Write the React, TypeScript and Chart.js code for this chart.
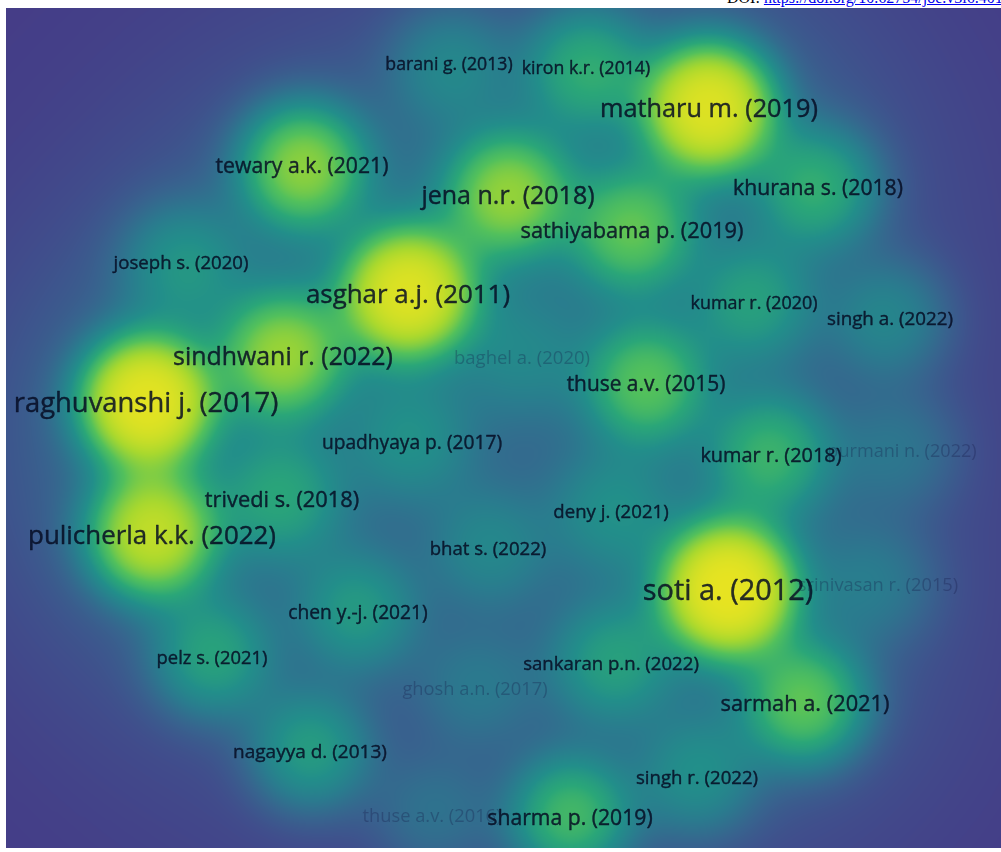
import React, { useEffect, useRef } from "react";
import { Chart, registerables } from "chart.js";

Chart.register(...registerables);

// Document map: label, map position (x right, y down), citations and link strength
const authors: string[] = [
  "barani g. (2013)",
  "kiron k.r. (2014)",
  "matharu m. (2019)",
  "tewary a.k. (2021)",
  "jena n.r. (2018)",
  "khurana s. (2018)",
  "sathiyabama p. (2019)",
  "joseph s. (2020)",
  "asghar a.j. (2011)",
  "kumar r. (2020)",
  "singh a. (2022)",
  "sindhwani r. (2022)",
  "baghel a. (2020)",
  "thuse a.v. (2015)",
  "raghuvanshi j. (2017)",
  "upadhyaya p. (2017)",
  "kumar r. (2018)",
  "purmani n. (2022)",
  "trivedi s. (2018)",
  "deny j. (2021)",
  "pulicherla k.k. (2022)",
  "bhat s. (2022)",
  "soti a. (2012)",
  "srinivasan r. (2015)",
  "chen y.-j. (2021)",
  "pelz s. (2021)",
  "sankaran p.n. (2022)",
  "ghosh a.n. (2017)",
  "sarmah a. (2021)",
  "nagayya d. (2013)",
  "singh r. (2022)",
  "thuse a.v. (2016)",
  "sharma p. (2019)",
];

const mapX: number[] = [
  443, 580, 703, 296, 502, 812, 626, 175, 402, 748, 884, 277, 516, 640, 140, 406, 765, 896, 276,
  605, 146, 482, 722, 872, 352, 206, 605, 469, 799, 304, 691, 426, 564,
];

const mapY: number[] = [
  55, 59, 99, 157, 186, 179, 222, 254, 285, 294, 310, 347, 349, 375, 393, 434, 446, 442, 491,
  503, 526, 540, 581, 576, 604, 649, 655, 680, 695, 743, 769, 807, 809,
];

const citations: number[] = [
  15, 28, 95, 52, 50, 30, 38, 18, 92, 22, 16, 50, 10, 38, 102, 15, 30, 10, 22,
  15, 70, 14, 112, 10, 22, 26, 22, 10, 42, 26, 18, 10, 38,
];

const linkStrength: number[] = [
  21, 21, 79, 48, 77, 48, 52, 28, 84, 22, 29, 76, 27, 45, 95, 32, 38, 24, 52,
  28, 84, 28, 107, 25, 32, 26, 28, 25, 52, 31, 28, 25, 48,
];

const MAP_W = 995;
const MAP_H = 840;
const CITATION_SCALE = 100;

// density colour ramp
const rampStops: number[] = [0, 0.15, 0.3, 0.45, 0.58, 0.7, 0.8, 0.9, 1];
const rampColors: number[][] = [
  [69, 60, 135],
  [64, 78, 140],
  [55, 100, 142],
  [42, 123, 142],
  [34, 142, 138],
  [42, 166, 120],
  [82, 192, 92],
  [168, 216, 46],
  [245, 230, 30],
];

function rampColor(t: number): number[] {
  if (t <= 0) return rampColors[0];
  if (t >= 1) return rampColors[rampColors.length - 1];
  let i = 0;
  while (i < rampStops.length - 2 && t > rampStops[i + 1]) i++;
  const f = (t - rampStops[i]) / (rampStops[i + 1] - rampStops[i]);
  const a = rampColors[i];
  const b = rampColors[i + 1];
  return [a[0] + (b[0] - a[0]) * f, a[1] + (b[1] - a[1]) * f, a[2] + (b[2] - a[2]) * f];
}

const densityPlugin = {
  id: "densityMap",
  beforeDatasetsDraw(chart: any) {
    const { ctx, chartArea, scales } = chart;
    const left = Math.round(chartArea.left);
    const top = Math.round(chartArea.top);
    const w = Math.round(chartArea.right - chartArea.left);
    const h = Math.round(chartArea.bottom - chartArea.top);
    const sNarrow = 44;
    const pNarrow = 2.3;
    const sWide = 130;
    const wideShare = 0.075;
    const gain = 3.15;
    const R = 420;
    // kernel lookup indexed by squared distance
    const lut = new Float32Array(R * R + 1);
    for (let d2 = 0; d2 <= R * R; d2++) {
      const r = Math.sqrt(d2) / sNarrow;
      lut[d2] =
        Math.exp(-0.5 * Math.pow(r, pNarrow)) +
        wideShare * Math.exp(-d2 / (2 * sWide * sWide));
    }
    const field = new Float32Array(w * h);
    for (let i = 0; i < mapX.length; i++) {
      const cx = Math.round(scales.x.getPixelForValue(mapX[i]) - left);
      const cy = Math.round(scales.y.getPixelForValue(mapY[i]) - top);
      const amp = citations[i] / CITATION_SCALE;
      const y0 = Math.max(0, cy - R);
      const y1 = Math.min(h - 1, cy + R);
      const x0 = Math.max(0, cx - R);
      const x1 = Math.min(w - 1, cx + R);
      for (let y = y0; y <= y1; y++) {
        const dy = y - cy;
        const dy2 = dy * dy;
        const row = y * w;
        for (let x = x0; x <= x1; x++) {
          const dx = x - cx;
          const d2 = dx * dx + dy2;
          if (d2 <= R * R) field[row + x] += amp * lut[d2];
        }
      }
    }
    const img = ctx.createImageData(w, h);
    const data = img.data;
    for (let p = 0; p < w * h; p++) {
      const t = 1 - Math.exp(-field[p] * gain);
      const c = rampColor(t);
      const k = p * 4;
      data[k] = c[0];
      data[k + 1] = c[1];
      data[k + 2] = c[2];
      data[k + 3] = 255;
    }
    ctx.putImageData(img, left, top);
  },
};

const labelPlugin = {
  id: "itemLabels",
  afterDatasetsDraw(chart: any) {
    const { ctx, scales } = chart;
    const order = authors.map((_, i) => i).sort((a, b) => linkStrength[a] - linkStrength[b]);
    ctx.save();
    ctx.textAlign = "center";
    ctx.textBaseline = "middle";
    ctx.lineJoin = "round";
    for (const i of order) {
      const size = 15 + linkStrength[i] * 0.13;
      const faded = citations[i] < 12;
      const color = faded ? "rgba(20,24,70,0.3)" : "rgba(6,12,34,0.84)";
      ctx.font = `${size.toFixed(1)}px "Open Sans", "Noto Sans", sans-serif`;
      ctx.fillStyle = color;
      ctx.strokeStyle = color;
      ctx.lineWidth = 0.4;
      const px = scales.x.getPixelForValue(mapX[i]);
      const py = scales.y.getPixelForValue(mapY[i]) + size * 0.1;
      ctx.fillText(authors[i], px, py);
      if (!faded) ctx.strokeText(authors[i], px, py);
    }
    ctx.restore();
  },
};

export default function App() {
  const canvasRef = useRef<HTMLCanvasElement | null>(null);

  useEffect(() => {
    const canvas = canvasRef.current;
    if (!canvas) return;
    const chart = new Chart(canvas, {
      type: "scatter",
      data: {
        datasets: [
          {
            label: "documents",
            data: mapX.map((x, i) => ({ x, y: mapY[i] })),
            pointRadius: 0,
            pointHoverRadius: 0,
          },
        ],
      },
      options: {
        responsive: true,
        maintainAspectRatio: false,
        animation: false,
        devicePixelRatio: 1,
        layout: { padding: 0 },
        plugins: {
          legend: { display: false },
          tooltip: { enabled: false },
        },
        scales: {
          x: { type: "linear", min: 0, max: MAP_W, display: false },
          y: { type: "linear", min: 0, max: MAP_H, reverse: true, display: false },
        },
      },
      plugins: [densityPlugin, labelPlugin],
    });
    return () => chart.destroy();
  }, []);

  return (
    <div>
      <div
        style={{
          position: "fixed",
          top: 0,
          left: 0,
          width: 1001,
          height: 8,
          overflow: "hidden",
          background: "#fff",
        }}
      >
        <div
          style={{
            position: "absolute",
            top: -11,
            left: 727,
            whiteSpace: "nowrap",
            fontFamily: '"Liberation Serif", "Times New Roman", serif',
            fontSize: 16,
          }}
        >
          DOI:{" "}
          <a href="#" style={{ color: "#0000ee" }}>
            https://doi.org/10.62754/joe.v3i6.4012
          </a>
        </div>
      </div>
      <div
        style={{
          position: "absolute",
          left: 6,
          top: 8,
          width: MAP_W,
          height: MAP_H,
        }}
      >
        <canvas ref={canvasRef} />
      </div>
    </div>
  );
}
